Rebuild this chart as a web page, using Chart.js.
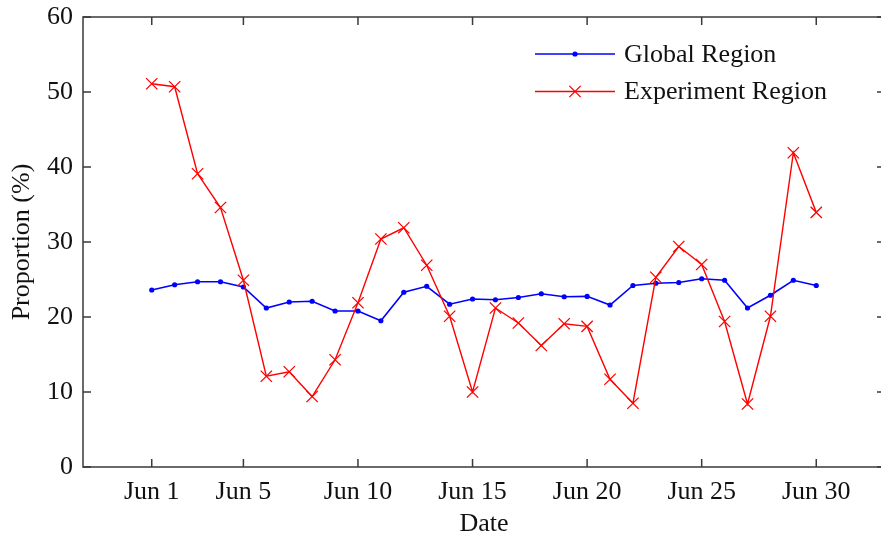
<!DOCTYPE html>
<html>
<head>
<meta charset="utf-8">
<script src="https://cdn.jsdelivr.net/npm/chart.js@4.4.1/dist/chart.umd.min.js"></script>
<style>
  html, body { margin: 0; padding: 0; background: #fff; overflow: hidden; }
  #chart { display: block; }
</style>
</head>
<body>
<canvas id="chart" width="890" height="538"></canvas>
<script>
// Day of June for each observation
const days = [1, 2, 3, 4, 5, 6, 7, 8, 9, 10, 11, 12, 13, 14, 15,
              16, 17, 18, 19, 20, 21, 22, 23, 24, 25, 26, 27, 28, 29, 30];

// Proportion (%) per day
const globalRegion = [23.6, 24.3, 24.7, 24.7, 24.0, 21.2, 22.0, 22.1, 20.8, 20.8,
                      19.5, 23.3, 24.1, 21.7, 22.4, 22.3, 22.6, 23.1, 22.7, 22.75,
                      21.6, 24.2, 24.5, 24.6, 25.1, 24.9, 21.2, 22.9, 24.9, 24.2];
const experimentRegion = [51.1, 50.7, 39.1, 34.6, 24.9, 12.1, 12.7, 9.4, 14.3, 21.9,
                          30.4, 31.9, 26.9, 20.1, 10.0, 21.2, 19.2, 16.2, 19.1, 18.75,
                          11.7, 8.5, 25.3, 29.4, 27.0, 19.4, 8.4, 20.1, 41.9, 33.95];

// Axis ticks
const xTickDays = [1, 5, 10, 15, 20, 25, 30];
const yTickValues = [0, 10, 20, 30, 40, 50, 60];
const seriesNames = ['Global Region', 'Experiment Region'];

const FONT = "'Liberation Serif', 'Times New Roman', serif";
const AXIS_COLOR = '#3a3a3a';
const TEXT_COLOR = '#111';
const TICK_LEN = 8;

const toPoints = vals => days.map((d, i) => ({ x: d, y: vals[i] }));

// Box frame with inward ticks on all four sides, plus the legend
const framePlugin = {
  id: 'frame',
  afterDraw(chart) {
    const { ctx, chartArea: a, scales } = chart;
    const xs = scales.x, ys = scales.y;
    ctx.save();
    ctx.strokeStyle = AXIS_COLOR;
    ctx.lineWidth = 1.5;
    ctx.beginPath();
    ctx.rect(a.left, a.top, a.right - a.left, a.bottom - a.top);
    ctx.stroke();
    ctx.beginPath();
    xTickDays.forEach(d => {
      const px = xs.getPixelForValue(d);
      ctx.moveTo(px, a.bottom); ctx.lineTo(px, a.bottom - TICK_LEN);
      ctx.moveTo(px, a.top); ctx.lineTo(px, a.top + TICK_LEN);
    });
    yTickValues.forEach(v => {
      const py = ys.getPixelForValue(v);
      ctx.moveTo(a.left, py); ctx.lineTo(a.left + TICK_LEN, py);
      ctx.moveTo(a.right, py); ctx.lineTo(a.right - TICK_LEN, py);
    });
    ctx.stroke();

    // Legend
    const lx0 = a.left + 452, lx1 = a.left + 532, tx = a.left + 541;
    const rows = [a.top + 37, a.top + 74.5];
    chart.data.datasets.forEach(ds => {
      const y = rows[ds.legendRow];
      ctx.strokeStyle = ds.borderColor;
      ctx.lineWidth = ds.borderWidth;
      ctx.beginPath(); ctx.moveTo(lx0, y); ctx.lineTo(lx1, y); ctx.stroke();
      const mx = (lx0 + lx1) / 2;
      if (ds.pointStyle === 'crossRot') {
        const r = ds.pointRadius * Math.SQRT1_2;
        ctx.lineWidth = ds.pointBorderWidth;
        ctx.beginPath();
        ctx.moveTo(mx - r, y - r); ctx.lineTo(mx + r, y + r);
        ctx.moveTo(mx - r, y + r); ctx.lineTo(mx + r, y - r);
        ctx.stroke();
      } else {
        ctx.fillStyle = ds.borderColor;
        ctx.beginPath(); ctx.arc(mx, y, ds.pointRadius, 0, Math.PI * 2); ctx.fill();
      }
      ctx.fillStyle = TEXT_COLOR;
      ctx.font = '26px ' + FONT;
      ctx.textBaseline = 'middle';
      ctx.textAlign = 'left';
      ctx.fillText(ds.label, tx, y + 1);
    });
    ctx.restore();
  }
};

new Chart(document.getElementById('chart'), {
  type: 'line',
  data: {
    datasets: [
      {
        label: seriesNames[1],
        legendRow: 1,
        data: toPoints(experimentRegion),
        borderColor: '#ff0000',
        backgroundColor: '#ff0000',
        borderWidth: 1.4,
        pointStyle: 'crossRot',
        pointRadius: 8,
        pointBorderWidth: 1.3,
        pointBorderColor: '#ff0000',
        fill: false,
        tension: 0
      },
      {
        label: seriesNames[0],
        legendRow: 0,
        data: toPoints(globalRegion),
        borderColor: '#0000ff',
        backgroundColor: '#0000ff',
        borderWidth: 1.6,
        pointStyle: 'circle',
        pointRadius: 2.6,
        pointBorderWidth: 0,
        pointBackgroundColor: '#0000ff',
        fill: false,
        tension: 0
      }
    ]
  },
  options: {
    responsive: false,
    maintainAspectRatio: false,
    devicePixelRatio: 1,
    animation: false,
    events: [],
    layout: { autoPadding: false, padding: { top: 17, right: 5, bottom: 0, left: 0 } },
    plugins: { legend: { display: false }, tooltip: { enabled: false } },
    scales: {
      x: {
        type: 'linear',
        min: -2,
        max: 33,
        grid: { display: false, drawTicks: false },
        border: { display: false },
        afterBuildTicks: s => { s.ticks = xTickDays.map(v => ({ value: v })); },
        afterFit: s => { s.height = 71; s.paddingLeft = 0; s.paddingRight = 0; },
        ticks: {
          autoSkip: false,
          maxRotation: 0,
          padding: 10,
          color: TEXT_COLOR,
          font: { family: FONT, size: 26 },
          callback: v => 'Jun ' + v
        },
        title: {
          display: true,
          text: 'Date',
          color: TEXT_COLOR,
          font: { family: FONT, size: 26 },
          padding: { top: 0, bottom: -2 }
        }
      },
      y: {
        min: 0,
        max: 60,
        grid: { display: false, drawTicks: false },
        border: { display: false },
        afterBuildTicks: s => { s.ticks = yTickValues.map(v => ({ value: v })); },
        afterFit: s => { s.width = 83; s.paddingTop = 0; s.paddingBottom = 0; },
        ticks: {
          padding: 10,
          color: TEXT_COLOR,
          font: { family: FONT, size: 26 }
        },
        title: {
          display: true,
          text: 'Proportion (%)',
          color: TEXT_COLOR,
          font: { family: FONT, size: 26 },
          padding: { top: 7, bottom: 0 }
        }
      }
    }
  },
  plugins: [framePlugin]
});
</script>
</body>
</html>
